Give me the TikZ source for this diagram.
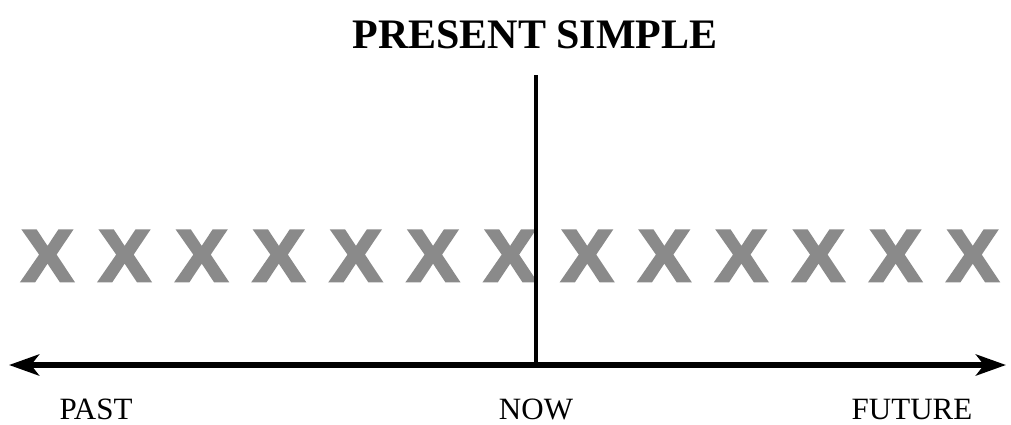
\documentclass[tikz,border=0pt]{standalone}
\usepackage{fontspec}
\setmainfont{Liberation Serif}
\newfontfamily\xfont{Liberation Sans Bold}[FakeBold=4,FakeStretch=1.05]
\usetikzlibrary{arrows.meta}
\tikzset{
  mark x/.style={text=xgray, font=\xfont\fontsize{73}{73}\selectfont, anchor=base, inner sep=0pt},
  tlabel/.style={font=\fontsize{31}{31}\selectfont, anchor=base, inner sep=0pt},
  axis/.style={line width=5.5pt, {Stealth[length=30pt,width=21pt,inset=8pt]}-{Stealth[length=30pt,width=21pt,inset=8pt]}},
  nowline/.style={line width=4pt}
}
\definecolor{xgray}{RGB}{138,138,138}
\begin{document}
\begin{tikzpicture}[x=1pt,y=-1pt]
\useasboundingbox (0,0) rectangle (1011,424);
\node[font=\bfseries\fontsize{42}{42}\selectfont, anchor=base, inner sep=0pt] (title) at (535,48) {PRESENT SIMPLE};
\foreach \i in {0,...,12} {
  \node[mark x] (x\i) at ({47.5+77.1*\i},281) {X};
}
\coordinate (nowtop) at (536,75);
\coordinate (nowbot) at (536,365);
\coordinate (past) at (9,365);
\coordinate (future) at (1006,365);
\draw[axis] (past) -- (future);
\draw[nowline] (nowtop) -- (nowbot);
\node[tlabel] (pastl) at (96,419) {PAST};
\node[tlabel] (nowl) at (536,419) {NOW};
\node[tlabel] (futurel) at (912,419) {FUTURE};
\end{tikzpicture}
\end{document}
